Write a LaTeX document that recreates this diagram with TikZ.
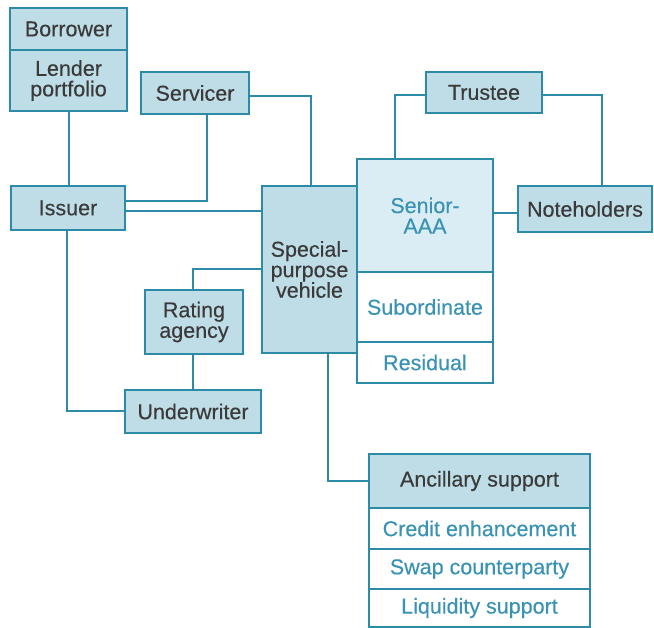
\documentclass[tikz,border=0pt]{standalone}
\usepackage{fontspec}
\setmainfont[FakeBold=0.3]{Liberation Sans}
\definecolor{edgec}{HTML}{2E8BA8}
\definecolor{fillc}{HTML}{BFDDE7}
\definecolor{fillsen}{HTML}{DAEDF4}
\definecolor{txtd}{HTML}{3A3A3A}
\definecolor{txtb}{HTML}{3A92B4}
\begin{document}
\begin{tikzpicture}[x=1pt,y=-1pt,
  box/.style={draw=edgec, line width=2pt, fill=fillc, text=txtd, inner sep=0pt, outer sep=0pt,
    align=center, font=\fontsize{21.5}{20.5}\selectfont},
  tbox/.style={box, fill=white, text=txtb},
  conn/.style={draw=edgec, line width=2pt}]
\useasboundingbox[fill=white] (0,0) rectangle (654,628);
% boxes
\node[box, minimum width=117pt, minimum height=42pt] (borrower) at (68.5,29) {Borrower};
\node[box, minimum width=117pt, minimum height=61pt] (lender) at (68.5,80.5) {Lender\\portfolio};
\node[box, minimum width=108pt, minimum height=42pt] (servicer) at (195,93) {Servicer};
\node[box, minimum width=116pt, minimum height=41pt] (trustee) at (484,92.5) {Trustee};
\node[box, minimum width=114pt, minimum height=44pt] (issuer) at (68,208) {Issuer};
\node[box, minimum width=95pt, minimum height=167pt] (spv) at (309.5,269.5) {Special-\\purpose\\vehicle};
\node[box, fill=fillsen, text=txtb, minimum width=136pt, minimum height=113pt] (senior) at (425,215.5) {Senior-\\AAA};
\node[tbox, minimum width=136pt, minimum height=70pt] (sub) at (425,307) {Subordinate};
\node[tbox, minimum width=136pt, minimum height=41pt] (resid) at (425,362.5) {Residual};
\node[box, minimum width=134pt, minimum height=46pt] (noteh) at (585,209) {Noteholders};
\node[box, minimum width=98pt, minimum height=64pt] (rating) at (194,322) {Rating\\agency};
\node[box, minimum width=136pt, minimum height=43pt] (under) at (193,411.5) {Underwriter};
\node[box, minimum width=221pt, minimum height=54pt] (ancil) at (479.5,481) {Ancillary support};
\node[tbox, minimum width=221pt, minimum height=41pt] (credit) at (479.5,528.5) {Credit enhancement};
\node[tbox, minimum width=221pt, minimum height=40pt] (swap) at (479.5,569) {Swap counterparty};
\node[tbox, minimum width=221pt, minimum height=38pt] (liq) at (479.5,608) {Liquidity support};
% connectors
\draw[conn] (lender.south) -- (lender.south |- issuer.north);
\draw[conn] ([yshift=-3pt]servicer.east) -| ([xshift=1.5pt]spv.north);
\draw[conn] ([xshift=12pt]servicer.south) |- ([yshift=7pt]issuer.east);
\draw[conn] ([yshift=-3pt]issuer.east) -- ([yshift=-3pt]issuer.east -| spv.west);
\draw[conn] ([xshift=-1pt]issuer.south) |- (under.west);
\draw[conn] ([xshift=-1pt]rating.north) |- (spv.west);
\draw[conn] ([xshift=-1pt]rating.south) -- ([xshift=-1pt]rating.south |- under.north);
\draw[conn] ([xshift=18.5pt]spv.south) |- (ancil.west);
\draw[conn] ([yshift=-2.5pt]trustee.west) -| ([xshift=-30pt]senior.north);
\draw[conn] ([yshift=-2.5pt]trustee.east) -| ([xshift=17pt]noteh.north);
\draw[conn] ([yshift=-4pt]noteh.west) -- ([yshift=-4pt]noteh.west -| senior.east);
\end{tikzpicture}
\end{document}
